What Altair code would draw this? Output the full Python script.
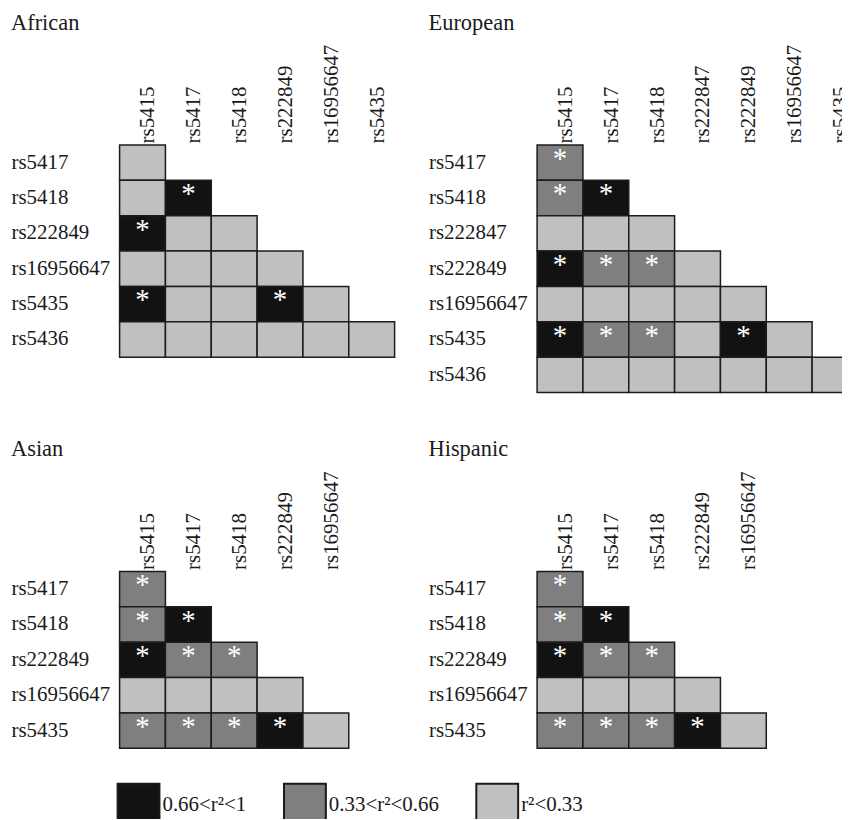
import altair as alt
import pandas as pd

# ---- data ----
cats = ["0.66<r²<1", "0.33<r²<0.66", "r²<0.33"]
colors = ["#121212", "#7f7f7f", "#c0c0c0"]
code = {"H": cats[0], "M": cats[1], "L": cats[2]}

af_rows = ["rs5417", "rs5418", "rs222849", "rs16956647", "rs5435", "rs5436"]
af_cols = ["rs5415", "rs5417", "rs5418", "rs222849", "rs16956647", "rs5435"]
af_cells = [
    ["L"],
    ["L", "H*"],
    ["H*", "L", "L"],
    ["L", "L", "L", "L"],
    ["H*", "L", "L", "H*", "L"],
    ["L", "L", "L", "L", "L", "L"],
]

eu_rows = ["rs5417", "rs5418", "rs222847", "rs222849", "rs16956647", "rs5435", "rs5436"]
eu_cols = ["rs5415", "rs5417", "rs5418", "rs222847", "rs222849", "rs16956647", "rs5435"]
eu_cells = [
    ["M*"],
    ["M*", "H*"],
    ["L", "L", "L"],
    ["H*", "M*", "M*", "L"],
    ["L", "L", "L", "L", "L"],
    ["H*", "M*", "M*", "L", "H*", "L"],
    ["L", "L", "L", "L", "L", "L", "L"],
]

as_rows = ["rs5417", "rs5418", "rs222849", "rs16956647", "rs5435"]
as_cols = ["rs5415", "rs5417", "rs5418", "rs222849", "rs16956647"]
as_cells = [
    ["M*"],
    ["M*", "H*"],
    ["H*", "M*", "M*"],
    ["L", "L", "L", "L"],
    ["M*", "M*", "M*", "H*", "L"],
]

hi_rows = ["rs5417", "rs5418", "rs222849", "rs16956647", "rs5435"]
hi_cols = ["rs5415", "rs5417", "rs5418", "rs222849", "rs16956647"]
hi_cells = [
    ["M*"],
    ["M*", "H*"],
    ["H*", "M*", "M*"],
    ["L", "L", "L", "L"],
    ["M*", "M*", "M*", "H*", "L"],
]

CELL_W = 46
CELL_H = 35.5
FONT = "Liberation Serif"


def frame(rows, cols, cells):
    recs = []
    for i, r in enumerate(rows):
        for j, v in enumerate(cells[i]):
            recs.append({"row": r, "col": cols[j], "cat": code[v[0]],
                         "star": "*" if v.endswith("*") else ""})
    return pd.DataFrame(recs)


color_enc = alt.Color(
    "cat:N",
    scale=alt.Scale(domain=cats, range=colors),
    legend=alt.Legend(
        title=None, orient="none", legendX=-3, legendY=640,
        direction="horizontal", symbolType="square", symbolSize=1764,
        symbolOpacity=1, symbolStrokeColor="#1a1a1a", symbolStrokeWidth=2,
        labelFont=FONT, labelFontSize=21, labelColor="#1a1a1a", labelOffset=2,
        columnPadding=33, labelLimit=300,
    ),
)


def panel(title, rows, cols, cells):
    df = frame(rows, cols, cells)
    xaxis = alt.Axis(orient="top", labelAngle=270, title=None, ticks=False,
                     tickSize=0, domain=False, grid=False, labelPadding=2,
                     labelOffset=6, labelFont=FONT, labelFontSize=21,
                     labelColor="#1a1a1a", labelAlign="left",
                     labelBaseline="middle")
    yaxis = alt.Axis(orient="left", title=None, ticks=False, tickSize=0,
                     domain=False, grid=False, labelPadding=109,
                     labelAlign="left", labelFont=FONT, labelFontSize=21,
                     labelColor="#1a1a1a")
    xs = alt.Scale(domain=cols, paddingInner=0, paddingOuter=0)
    ys = alt.Scale(domain=rows, paddingInner=0, paddingOuter=0)
    base = alt.Chart(df)
    rect = base.mark_rect(stroke="#1c1c1c", strokeWidth=1.5).encode(
        x=alt.X("col:N", scale=xs, axis=xaxis),
        y=alt.Y("row:N", scale=ys, axis=yaxis),
        color=color_enc,
    )
    txt = base.mark_text(font=FONT, fontSize=29, color="white",
                         baseline="top", align="center").encode(
        x=alt.X("col:N", scale=xs, axis=xaxis),
        y=alt.Y("row:N", scale=ys, axis=yaxis, bandPosition=0),
        text="star:N",
    )
    return alt.layer(rect, txt).properties(
        width=CELL_W * len(cols), height=CELL_H * len(rows),
        title=alt.TitleParams(title, anchor="start", frame="bounds",
                              fontSize=22.5, font=FONT, fontWeight="normal",
                              color="#1a1a1a", offset=10),
    )


chart = alt.concat(
    panel("African", af_rows, af_cols, af_cells),
    panel("European", eu_rows, eu_cols, eu_cells),
    panel("Asian", as_rows, as_cols, as_cells),
    panel("Hispanic", hi_rows, hi_cols, hi_cells),
    columns=2,
    spacing={"row": 44, "column": 33},
).properties(
    padding={"left": 3, "top": 2, "right": -17, "bottom": -12},
    background="white",
).configure_view(strokeWidth=0)

chart.save("out.html", embed_options={"renderer": "svg", "actions": False})
